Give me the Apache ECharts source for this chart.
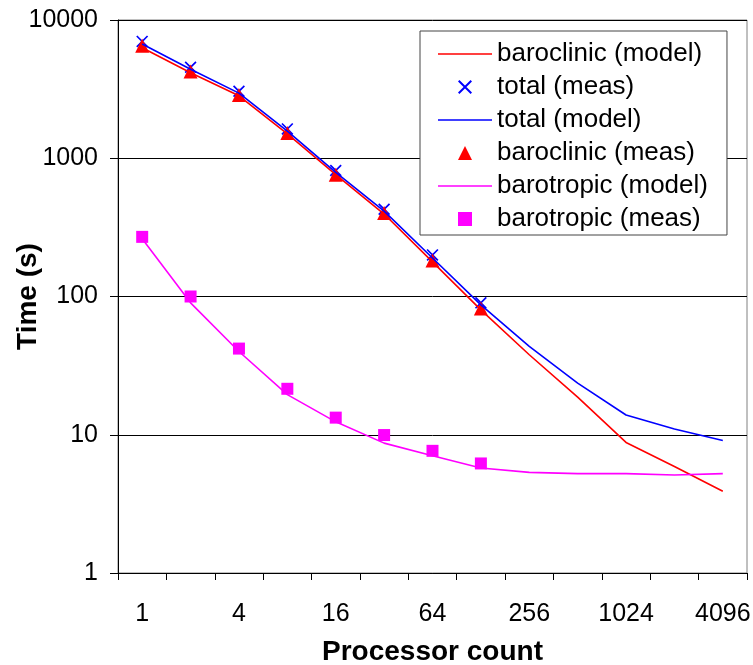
<!DOCTYPE html>
<html>
<head>
<meta charset="utf-8">
<script src="https://cdn.jsdelivr.net/npm/echarts@6/dist/echarts.min.js"></script>
<style>
  html, body { margin: 0; padding: 0; background: #fff; }
  #chart { width: 753px; height: 665px; }
</style>
</head>
<body>
<div id="chart"></div>
<script>
// Processor counts (powers of two) along the x axis
const processorCounts = ['1', '2', '4', '8', '16', '32', '64', '128', '256', '512', '1024', '2048', '4096'];

// Modelled times (s)
const baroclinicModel = [6300, 4150, 2830, 1500, 760, 395, 178, 80, 37.9, 18.7, 8.8, 5.9, 3.9];
const totalModel      = [6700, 4400, 2960, 1570, 790, 415, 190, 87, 43.5, 23.6, 13.9, 11.0, 9.1];
const barotropicModel = [262, 90, 40, 19.5, 12.4, 8.7, 7.05, 5.75, 5.34, 5.23, 5.23, 5.11, 5.23];

// Measured times (s), available up to 128 processors
const totalMeas      = [7000, 4550, 3050, 1630, 815, 428, 200, 90];
const baroclinicMeas = [6500, 4250, 2870, 1520, 760, 401, 182, 82];
const barotropicMeas = [270, 100, 42, 21.5, 13.3, 9.95, 7.65, 6.2];

const FONT = 'Liberation Sans, Arial, sans-serif';
const RED = '#ff0000', BLUE = '#0000ff', MAGENTA = '#ff00ff';

// Marker shapes
const CROSS = 'path://M0,1L1,0L10,9L9,10Z M9,0L10,1L1,10L0,9Z';
const TRIANGLE = 'path://M5,0L10,10L0,10Z';
const SQUARE = 'path://M0,0H10V10H0Z';
const LINE_ICON = 'path://M0,0H54V1.6H0Z';

const chart = echarts.init(document.getElementById('chart'), null, { renderer: 'canvas' });

function modelSeries(name, data, color) {
  return {
    name, type: 'line', data,
    symbol: 'none', showSymbol: false,
    lineStyle: { color, width: 1.6 },
    itemStyle: { color },
    animation: false
  };
}
function measSeries(name, data, color, symbol, size) {
  return {
    name, type: 'scatter', data,
    symbol, symbolSize: size,
    itemStyle: { color, opacity: 1 },
    animation: false
  };
}

chart.setOption({
  animation: false,
  backgroundColor: '#ffffff',
  grid: {
    left: 118, right: 6, top: 20, bottom: 92,
    containLabel: false,
    outerBoundsMode: 'none',
    show: true, borderColor: '#808080', borderWidth: 1, backgroundColor: 'transparent'
  },
  legend: {
    orient: 'vertical',
    left: 420, top: 31,
    padding: [10, 19, 3, 18],
    itemWidth: 54, itemHeight: 14, itemGap: 7,
    symbolKeepAspect: true,
    backgroundColor: '#ffffff',
    borderColor: '#444444', borderWidth: 1,
    textStyle: { fontFamily: FONT, fontSize: 26, color: '#000' },
    data: [
      { name: 'baroclinic (model)', icon: LINE_ICON },
      { name: 'total (meas)', icon: CROSS },
      { name: 'total (model)', icon: LINE_ICON },
      { name: 'baroclinic (meas)', icon: TRIANGLE },
      { name: 'barotropic (model)', icon: LINE_ICON },
      { name: 'barotropic (meas)', icon: SQUARE }
    ]
  },
  xAxis: {
    type: 'category',
    data: processorCounts,
    boundaryGap: true,
    name: 'Processor count',
    nameLocation: 'middle',
    nameGap: 65,
    nameMoveOverlap: false,
    nameTextStyle: { fontFamily: FONT, fontSize: 28, fontWeight: 'bold', color: '#000' },
    axisLine: { lineStyle: { color: '#000', width: 1 } },
    axisTick: { show: true, interval: 0, length: 7, lineStyle: { color: '#000' } },
    axisLabel: { interval: 1, margin: 29, fontFamily: FONT, fontSize: 25, color: '#000' },
    splitLine: { show: false }
  },
  yAxis: {
    type: 'log',
    logBase: 10,
    min: 1, max: 10000,
    name: 'Time (s)',
    nameLocation: 'middle',
    nameGap: 76,
    nameMoveOverlap: false,
    nameTextStyle: { fontFamily: FONT, fontSize: 28, fontWeight: 'bold', color: '#000' },
    axisLine: { show: true, lineStyle: { color: '#000', width: 1 } },
    axisTick: { show: true, length: 8, lineStyle: { color: '#000' } },
    axisLabel: {
      margin: 20, fontFamily: FONT, fontSize: 25, color: '#000',
      formatter: v => String(Math.round(v))
    },
    splitLine: { show: true, lineStyle: { color: '#000', width: 1 } }
  },
  series: [
    modelSeries('baroclinic (model)', baroclinicModel, RED),
    measSeries('total (meas)', totalMeas, BLUE, CROSS, 12),
    modelSeries('total (model)', totalModel, BLUE),
    measSeries('baroclinic (meas)', baroclinicMeas, RED, TRIANGLE, 14),
    modelSeries('barotropic (model)', barotropicModel, MAGENTA),
    measSeries('barotropic (meas)', barotropicMeas, MAGENTA, SQUARE, 12)
  ]
});
</script>
</body>
</html>
